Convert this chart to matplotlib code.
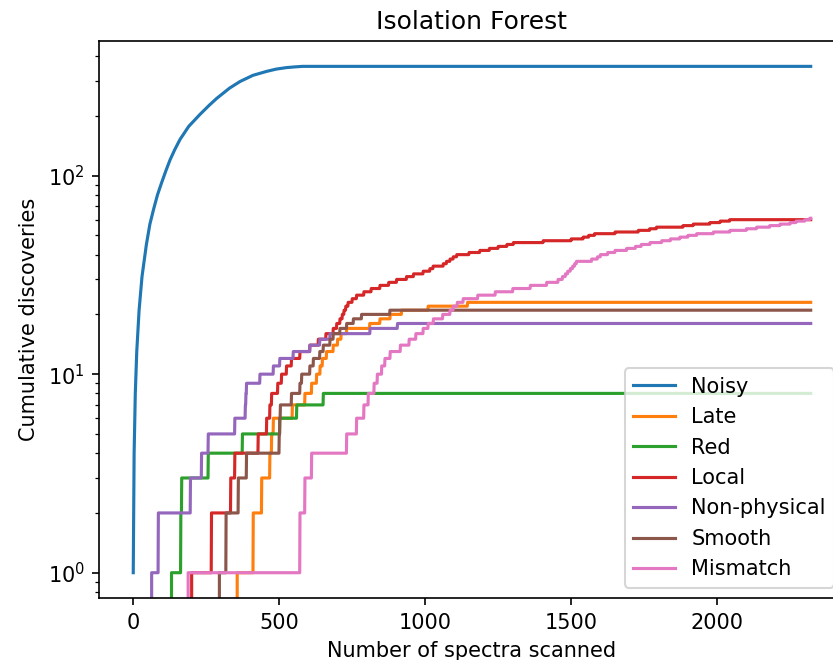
import numpy as np
import matplotlib.pyplot as plt

# number of spectra scanned in total
n_spectra = 2321

# Noisy: cumulative count (scan index, count)
noisy_x = [0, 3, 7, 12, 20, 30, 45, 57, 70, 83, 97, 112, 126, 142, 160, 190,
           228, 260, 286, 330, 366, 410, 457, 490, 525, 555, 580, 2320]
noisy_y = [1, 4, 8, 13, 21, 31, 45, 57, 68, 80, 92, 106, 120, 135, 152, 177,
           203, 226, 245, 276, 298, 320, 335, 344, 350, 353, 355, 355]

# scan index at which each discovery happened, per category
late = [356, 411, 440, 468, 474, 480, 545, 588, 611, 628, 640, 648, 662, 685,
        700, 712, 731, 810, 845, 880, 919, 1010, 1145]
red = [131, 163, 166, 257, 374, 502, 560, 651]
local = [200, 268, 334, 348, 428, 457, 468, 474, 495, 508, 525, 542, 571, 605,
         634, 660, 685, 697, 708, 716, 722, 728, 736, 750, 765, 790, 815, 845,
         875, 902, 936, 960, 993, 1016, 1027, 1062, 1073, 1085, 1096, 1108,
         1150, 1187, 1220, 1250, 1280, 1302, 1404, 1500, 1541, 1560, 1580,
         1650, 1730, 1769, 1792, 1883, 1918, 1975, 2010, 2043]
non_physical = [63, 86, 196, 234, 257, 348, 384, 386, 388, 434, 480, 502, 548,
                605, 639, 674, 811, 905]
smooth = [295, 318, 360, 388, 500, 502, 504, 542, 571, 577, 605, 617, 639, 651,
          674, 685, 708, 731, 754, 782, 879]
mismatch = [188, 571, 588, 611, 731, 765, 790, 805, 825, 836, 851, 862, 880,
            915, 945, 968, 993, 1010, 1028, 1060, 1085, 1096, 1110, 1130, 1180,
            1240, 1300, 1360, 1416, 1455, 1470, 1480, 1488, 1497, 1505, 1512,
            1518, 1570, 1590, 1600, 1625, 1650, 1690, 1720, 1740, 1770, 1810,
            1840, 1872, 1900, 1930, 1987, 2044, 2100, 2135, 2180, 2215, 2250,
            2270, 2300, 2317]

idx = np.arange(n_spectra)


def cumulative(positions):
    # number of discoveries made up to each scan index
    counts = np.zeros(n_spectra)
    np.add.at(counts, positions, 1)
    return np.cumsum(counts)


fig = plt.figure(figsize=(833 / 150, 660 / 150), dpi=150)
ax = fig.add_axes([0.1193, 0.0939, 0.8946, 0.8439])

ax.plot(noisy_x, noisy_y, label='Noisy')
ax.plot(idx, cumulative(late), label='Late')
ax.plot(idx, cumulative(red), label='Red')
ax.plot(idx, cumulative(local), label='Local')
ax.plot(idx, cumulative(non_physical), label='Non-physical')
ax.plot(idx, cumulative(smooth), label='Smooth')
ax.plot(idx, cumulative(mismatch), label='Mismatch')

ax.set_yscale('log')
ax.set_xlabel('Number of spectra scanned')
ax.set_ylabel('Cumulative discoveries')
ax.set_title('Isolation Forest')
ax.legend(loc='lower right')

fig.savefig('out.png', dpi=150)
